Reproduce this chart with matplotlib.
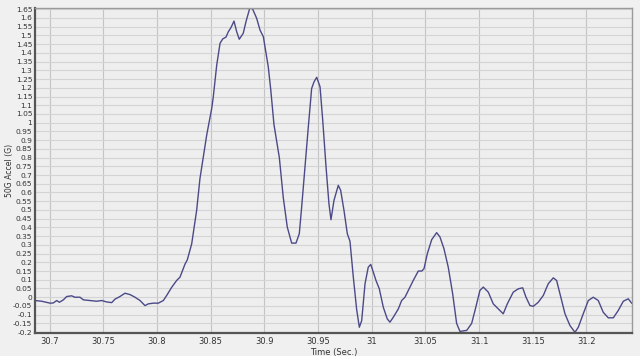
import matplotlib
matplotlib.use("Agg")
import matplotlib.pyplot as plt
from matplotlib.ticker import MultipleLocator, FormatStrFormatter

# time (s) and 50G accel (G)
time = [30.6865, 30.6927, 30.7005, 30.7035, 30.7067, 30.7092, 30.7129, 30.7160,
        30.7206, 30.7237, 30.7284, 30.7315, 30.7377, 30.7439, 30.7486, 30.7532,
        30.7579, 30.7610, 30.7656, 30.7703, 30.7750, 30.7796, 30.7843, 30.7889,
        30.7920, 30.7967, 30.8013, 30.8060, 30.8091, 30.8138, 30.8184, 30.8215,
        30.8262, 30.8283, 30.8324, 30.8370, 30.8401, 30.8464, 30.8510, 30.8525,
        30.8557, 30.8588, 30.8613, 30.8643, 30.8665, 30.8690, 30.8718, 30.8743,
        30.8767, 30.8804, 30.8830, 30.8867, 30.8892, 30.8929, 30.8960, 30.8991,
        30.9016, 30.9037, 30.9060, 30.9090, 30.9140, 30.9177, 30.9214, 30.9255,
        30.9295, 30.9326, 30.9348, 30.9379, 30.9410, 30.9441, 30.9463, 30.9488,
        30.9519, 30.9544, 30.9575, 30.9602, 30.9621, 30.9649, 30.9689, 30.9711,
        30.9742, 30.9773, 30.9798, 30.9829, 30.9860, 30.9885, 30.9907, 30.9938,
        30.9968, 30.9991, 31.0015, 31.0040, 31.0071, 31.0108, 31.0145, 31.0170,
        31.0201, 31.0248, 31.0279, 31.0310, 31.0341, 31.0387, 31.0434, 31.0466,
        31.0487, 31.0518, 31.0559, 31.0605, 31.0636, 31.0673, 31.0713, 31.0754,
        31.0791, 31.0822, 31.0885, 31.0931, 31.0962, 31.1008, 31.1039, 31.1086,
        31.1132, 31.1179, 31.1225, 31.1263, 31.1318, 31.1365, 31.1406, 31.1437,
        31.1474, 31.1505, 31.1551, 31.1598, 31.1644, 31.1691, 31.1722, 31.1753,
        31.1800, 31.1846, 31.1893, 31.1924, 31.1970, 31.2017, 31.2063, 31.2110,
        31.2156, 31.2203, 31.2250, 31.2296, 31.2343, 31.2389, 31.2421]
accel = [-0.019, -0.023, -0.034, -0.033, -0.019, -0.029, -0.015, 0.004,
         0.008, 0.000, 0.000, -0.015, -0.019, -0.023, -0.019, -0.027,
         -0.031, -0.011, 0.004, 0.023, 0.015, 0.000, -0.019, -0.048,
         -0.038, -0.034, -0.034, -0.019, 0.010, 0.057, 0.096, 0.115,
         0.190, 0.214, 0.306, 0.497, 0.680, 0.930, 1.080, 1.148,
         1.330, 1.455, 1.480, 1.490, 1.521, 1.545, 1.582, 1.521,
         1.478, 1.512, 1.580, 1.661, 1.650, 1.598, 1.531, 1.493,
         1.400, 1.320, 1.190, 0.990, 0.800, 0.570, 0.402, 0.310,
         0.310, 0.364, 0.517, 0.746, 0.976, 1.196, 1.234, 1.260,
         1.206, 1.015, 0.746, 0.536, 0.444, 0.555, 0.641, 0.613,
         0.498, 0.364, 0.320, 0.115, -0.070, -0.172, -0.134, 0.077,
         0.172, 0.188, 0.144, 0.096, 0.048, -0.057, -0.124, -0.143,
         -0.115, -0.067, -0.019, 0.000, 0.039, 0.096, 0.150, 0.150,
         0.163, 0.249, 0.330, 0.370, 0.345, 0.278, 0.172, 0.020,
         -0.150, -0.196, -0.190, -0.150, -0.076, 0.039, 0.058, 0.029,
         -0.038, -0.067, -0.095, -0.038, 0.029, 0.048, 0.054, 0.000,
         -0.048, -0.052, -0.029, 0.010, 0.077, 0.111, 0.096, 0.020,
         -0.095, -0.162, -0.201, -0.172, -0.095, -0.019, 0.000, -0.019,
         -0.086, -0.118, -0.118, -0.076, -0.023, -0.009, -0.034]

fig = plt.figure(figsize=(6.4, 3.56), dpi=100, facecolor="#f0f0f0")
ax = fig.add_axes([0.0547, 0.0646, 0.9328, 0.9129], facecolor="#eeeeee")

ax.plot(time, accel, color="#4b4a88", lw=1.0)

ax.set_xlim(30.6865, 31.2424)
ax.set_ylim(-0.205, 1.657)
ax.xaxis.set_major_locator(MultipleLocator(0.05))
ax.yaxis.set_major_locator(MultipleLocator(0.05))
ax.xaxis.set_major_formatter(FormatStrFormatter("%g"))
ax.yaxis.set_major_formatter(plt.FuncFormatter(lambda v, p: "%g" % round(v, 2)))
ax.grid(True, axis="y", color="#d4d4d4", lw=0.8)
ax.grid(True, axis="x", color="#c4c4c4", lw=0.8)
ax.set_axisbelow(True)
ax.tick_params(axis="y", length=0, labelsize=5.4, colors="#333333", pad=2)
ax.tick_params(axis="x", length=0, labelsize=6, colors="#333333", pad=3)

for s in ("left", "bottom"):
    ax.spines[s].set_color("#555555")
    ax.spines[s].set_linewidth(1.6)
for s in ("top", "right"):
    ax.spines[s].set_color("#9a9a9a")
    ax.spines[s].set_linewidth(1.0)

ax.set_xlabel("Time (Sec.)", fontsize=6, color="#333333", labelpad=1)
ax.set_ylabel("50G Accel (G)", fontsize=5.6, color="#333333")
ax.yaxis.set_label_coords(-0.036, 0.5)

fig.savefig("out.png", dpi=100, facecolor=fig.get_facecolor())
